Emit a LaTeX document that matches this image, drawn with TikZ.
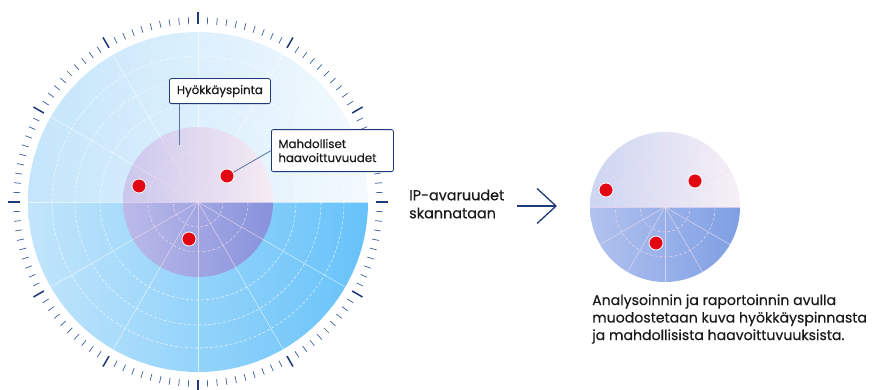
\documentclass[tikz,border=0pt]{standalone}
\usepackage{fontspec}
\setmainfont{Poppins}[FakeBold=0.4]
\usetikzlibrary{arrows.meta}
\definecolor{navy}{HTML}{1E3A78}
\definecolor{tickblue}{HTML}{3D5C99}
\definecolor{leadblue}{HTML}{5A73A8}
\definecolor{vred}{HTML}{E30613}
\definecolor{ink}{HTML}{1A1A1A}
\definecolor{skyA}{HTML}{C4E5FB}
\definecolor{skyB}{HTML}{F4FAFE}
\definecolor{skyC}{HTML}{C2E5FB}
\definecolor{skyD}{HTML}{66C2FA}
\definecolor{lavA}{HTML}{CBC7EC}
\definecolor{lavB}{HTML}{F6ECF4}
\definecolor{lavC}{HTML}{BBBAE9}
\definecolor{lavD}{HTML}{8792DC}
\definecolor{smA}{HTML}{CDD5F2}
\definecolor{smB}{HTML}{F7F0F6}
\definecolor{smC}{HTML}{B2C2EE}
\definecolor{smD}{HTML}{7E9FE4}
\definecolor{pinkline}{HTML}{F2DDF0}

\begin{document}
\begin{tikzpicture}[x=1pt,y=1pt,
  font=\fontsize{14.4}{18}\selectfont,
  tick/.style={tickblue,line width=0.7pt},
  bigtick/.style={navy,line width=1.5pt},
  ring/.style={white,opacity=0.7,line width=0.6pt,dash pattern=on 3pt off 2pt},
  spoke/.style={white,opacity=0.6,line width=0.6pt},
  pring/.style={pinkline,opacity=0.8,line width=0.6pt,dash pattern=on 3pt off 2pt},
  pspoke/.style={pinkline,opacity=0.7,line width=0.6pt},
  vuln/.style={circle,fill=vred,draw=white,line width=0.8pt,minimum size=14pt,inner sep=0pt},
  callout/.style={draw=navy,fill=white,rounded corners=2pt,line width=0.8pt,
    font=\fontsize{11.8}{14}\selectfont,align=left,text=ink},
  lead/.style={draw=leadblue,line width=0.8pt},
  txt/.style={align=left,anchor=west,inner sep=0pt,text=ink}
]
\useasboundingbox (0,0) rectangle (885,389);

% big radar
\coordinate (big) at (198,187);
\shade[left color=skyA,right color=skyB] (big) ++(0:170) arc (0:180:170) -- cycle;
\shade[left color=skyC,right color=skyD] (big) ++(180:170) arc (180:360:170) -- cycle;
\foreach \r in {98,123,146} \draw[ring] (big) circle (\r);
\foreach \a in {0,30,...,330} \draw[spoke] (big) -- ++(\a:170);
\foreach \a in {0,3,...,357} \draw[tick] (big) ++(\a:178) -- ++(\a:7);
\foreach \a in {0,30,...,330} \draw[bigtick] (big) ++(\a:178) -- ++(\a:12);

% attack surface
\shade[left color=lavA,right color=lavB] (big) ++(0:75) arc (0:180:75) -- cycle;
\shade[left color=lavC,right color=lavD] (big) ++(180:75) arc (180:360:75) -- cycle;
\foreach \r in {25,50} \draw[pring] (big) circle (\r);
\foreach \a in {0,30,...,330} \draw[pspoke] (big) -- ++(\a:75);

\node[vuln] (v1) at (139,203) {};
\node[vuln] (v2) at (227,213) {};
\node[vuln] (v3) at (189,150) {};

% callouts
\node[callout,anchor=south west,minimum width=101pt,minimum height=25pt] (hyok) at (169,285) {Hyökkäyspinta};
\coordinate (hp) at (179,244);
\draw[lead] (hp |- hyok.south) -- (hp);
\node[callout,anchor=south west,text width=108pt,inner xsep=7pt,minimum height=42pt] (mahd) at (271,217)
  {Mahdolliset\\haavoittuvuudet};
\draw[lead] (mahd.west) -- (v2);

% scan step
\node[txt] (scan) at (409,185) {IP-avaruudet\\skannataan};
\coordinate (ar) at (557,183);
\draw[navy,line width=1.3pt,-{Straight Barb[length=19pt,width=35pt,line width=1.3pt]}] (scan.east -| 517,0) ++(0,-2) -- (ar);

% result radar
\coordinate (small) at (665,182);
\shade[left color=smA,right color=smB] (small) ++(0:75) arc (0:180:75) -- cycle;
\shade[left color=smC,right color=smD] (small) ++(180:75) arc (180:360:75) -- cycle;
\foreach \r in {25,50} \draw[pring] (small) circle (\r);
\foreach \a in {0,30,...,330} \draw[pspoke] (small) -- ++(\a:75);

\node[vuln] (w1) at (606,199) {};
\node[vuln] (w2) at (695,208) {};
\node[vuln] (w3) at (656,146) {};

\node[txt,font=\fontsize{14.1}{17.5}\selectfont] (summary) at (592,70)
  {Analysoinnin ja raportoinnin avulla\\muodostetaan kuva hyökkäyspinnasta\\ja mahdollisista haavoittuvuuksista.};
\end{tikzpicture}
\end{document}
